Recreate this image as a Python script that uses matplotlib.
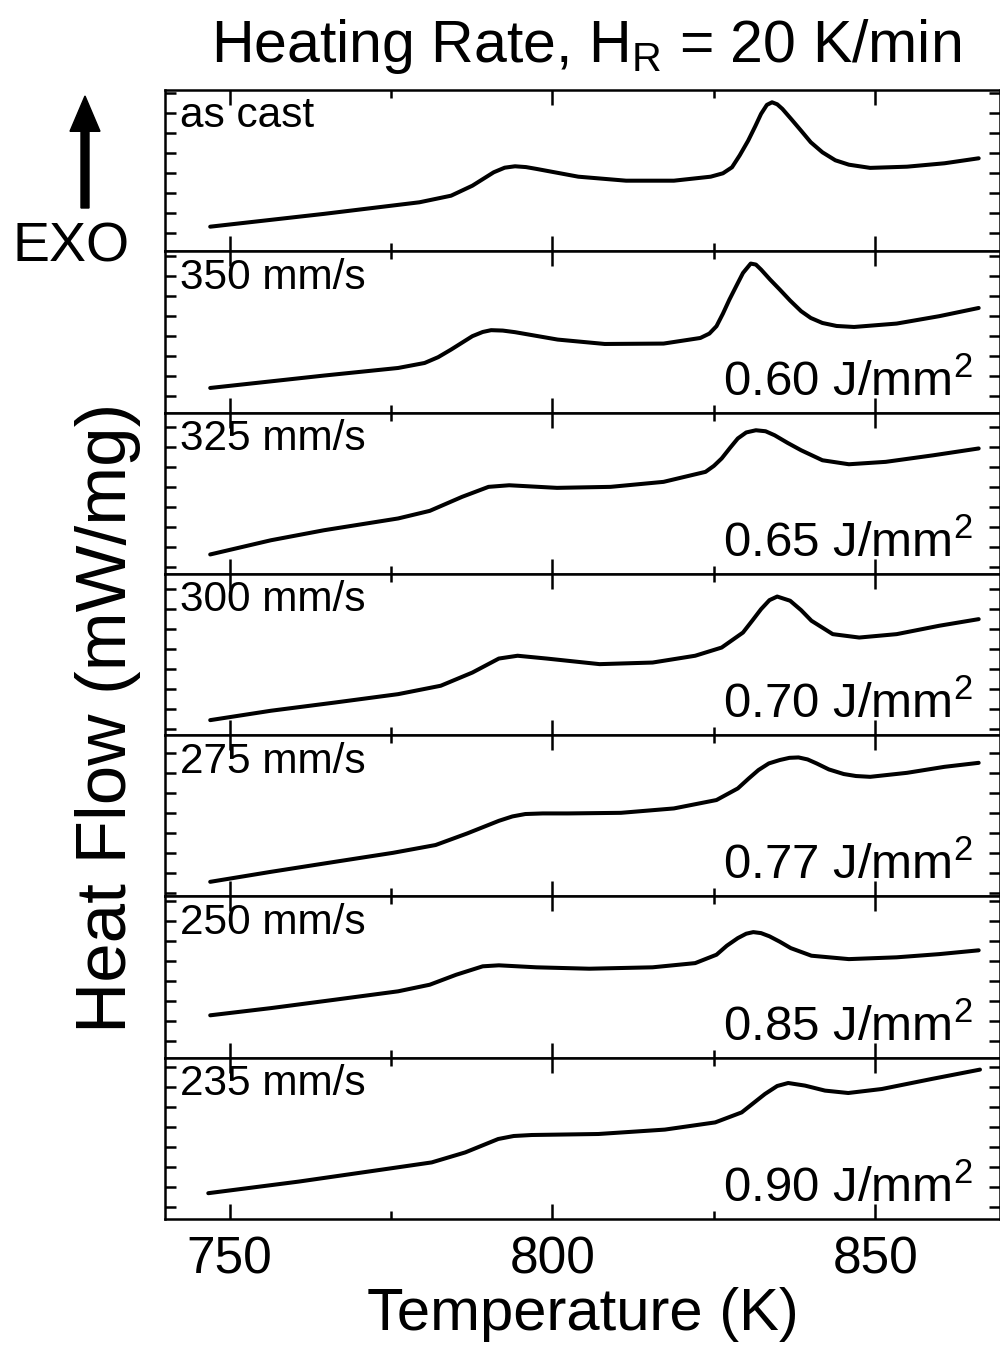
import matplotlib
matplotlib.use("Agg")
import matplotlib.pyplot as plt
from matplotlib.patches import FancyArrow
from matplotlib.ticker import MultipleLocator

plt.rcParams['font.family'] = ['Liberation Sans', 'DejaVu Sans']
plt.rcParams['mathtext.fontset'] = 'custom'
plt.rcParams['mathtext.rm'] = 'Liberation Sans'

# DSC traces, heat flow in arbitrary offset units (one unit = one y tick)
speeds = ["as cast", "350 mm/s", "325 mm/s", "300 mm/s", "275 mm/s", "250 mm/s", "235 mm/s"]
energies = [None, "0.60", "0.65", "0.70", "0.77", "0.85", "0.90"]

t_ascast = [747.0, 764.6, 779.4, 784.3, 787.6, 790.9, 792.6, 794.2, 795.9, 797.5, 804.0, 811.4,
            818.8, 824.5, 826.4, 827.8, 829.0, 830.3, 831.4, 832.3, 833.2, 834.0, 834.8, 835.6,
            837.0, 838.5, 840.0, 841.8, 843.8, 845.9, 849.2, 854.9, 860.7, 866.0]
hf_ascast = [0.33, 0.97, 1.55, 1.88, 2.38, 3.05, 3.28, 3.35, 3.31, 3.22, 2.83, 2.63,
             2.63, 2.83, 3.00, 3.30, 3.90, 4.63, 5.35, 5.97, 6.42, 6.55, 6.45, 6.22,
             5.70, 5.13, 4.55, 4.05, 3.65, 3.43, 3.27, 3.33, 3.50, 3.75]

t_350 = [747.0, 764.6, 776.1, 780.2, 782.3, 784.3, 787.6, 789.2, 790.5, 792.3, 794.2, 800.8,
         808.1, 817.2, 822.9, 824.3, 825.4, 826.4, 827.4, 828.5, 829.5, 830.7, 831.5, 832.3,
         833.7, 835.2, 836.8, 838.5, 840.0, 841.8, 844.0, 846.7, 853.3, 859.9, 866.0]
hf_350 = [0.38, 1.00, 1.38, 1.63, 1.92, 2.30, 2.97, 3.18, 3.27, 3.25, 3.17, 2.80,
          2.58, 2.60, 2.88, 3.10, 3.47, 4.10, 4.80, 5.50, 6.13, 6.60, 6.55, 6.30,
          5.80, 5.30, 4.75, 4.22, 3.88, 3.63, 3.48, 3.43, 3.60, 3.97, 4.38]

t_325 = [747.0, 756.4, 764.6, 776.1, 781.0, 786.0, 790.1, 793.3, 800.7, 809.0, 817.2, 823.7,
         825.0, 826.2, 827.5, 828.7, 830.0, 831.5, 833.0, 834.4, 836.4, 838.5, 841.8, 845.9,
         851.6, 859.0, 866.0]
hf_325 = [0.62, 1.33, 1.83, 2.42, 2.80, 3.50, 4.00, 4.08, 3.95, 4.00, 4.25, 4.75,
          5.05, 5.42, 5.95, 6.42, 6.72, 6.83, 6.78, 6.58, 6.20, 5.83, 5.33, 5.13,
          5.25, 5.58, 5.92]

t_300 = [747.0, 756.4, 766.3, 776.1, 782.7, 787.6, 791.7, 794.6, 799.1, 807.3, 815.5, 822.1,
         826.2, 829.5, 831.0, 832.3, 833.6, 834.8, 836.8, 838.5, 840.1, 843.4, 847.5, 853.3,
         859.9, 866.0]
hf_300 = [0.45, 0.92, 1.33, 1.75, 2.17, 2.83, 3.53, 3.67, 3.53, 3.25, 3.33, 3.67,
          4.08, 4.83, 5.45, 6.00, 6.45, 6.63, 6.42, 5.95, 5.42, 4.75, 4.58, 4.75,
          5.17, 5.50]

t_275 = [747.0, 756.4, 766.3, 775.3, 781.9, 786.8, 791.7, 793.8, 795.8, 798.5, 802.4, 810.6,
         818.8, 825.4, 828.7, 830.4, 831.9, 833.5, 835.2, 836.7, 838.1, 839.5, 840.9, 842.8,
         845.1, 847.0, 849.2, 854.9, 860.7, 866.0]
hf_275 = [-0.42, 0.08, 0.58, 1.03, 1.42, 2.00, 2.63, 2.85, 2.97, 3.00, 3.00, 3.03,
          3.25, 3.67, 4.25, 4.75, 5.17, 5.50, 5.67, 5.78, 5.80, 5.70, 5.50, 5.20,
          4.97, 4.87, 4.83, 5.03, 5.33, 5.53]

t_250 = [747.0, 756.4, 766.3, 776.1, 781.0, 785.1, 789.2, 791.7, 797.5, 805.7, 815.5, 822.1,
         825.4, 827.0, 828.7, 830.0, 831.1, 832.3, 833.6, 835.2, 836.9, 840.1, 845.9, 853.3,
         859.9, 866.0]
hf_250 = [1.27, 1.63, 2.05, 2.47, 2.80, 3.30, 3.72, 3.77, 3.67, 3.60, 3.67, 3.88,
          4.30, 4.75, 5.13, 5.35, 5.43, 5.38, 5.22, 4.95, 4.63, 4.25, 4.08, 4.17,
          4.33, 4.52]

t_235 = [746.7, 760.7, 774.9, 781.3, 786.5, 791.6, 794.0, 796.8, 807.1, 817.4, 825.2, 829.3,
         832.9, 834.8, 836.5, 839.1, 842.2, 845.8, 851.0, 858.7, 866.2]
hf_235 = [0.69, 1.27, 1.93, 2.23, 2.73, 3.40, 3.55, 3.60, 3.65, 3.87, 4.23, 4.73,
          5.65, 6.05, 6.20, 6.07, 5.82, 5.70, 5.90, 6.40, 6.87]

temps = [t_ascast, t_350, t_325, t_300, t_275, t_250, t_235]
flows = [hf_ascast, hf_350, hf_325, hf_300, hf_275, hf_250, hf_235]
# lower y limit of each panel (heat flow units)
ylow = [-0.9, -0.85, -0.35, -0.3, -1.15, -0.85, -0.6]

W, H = 1000, 1358
fig = plt.figure(figsize=(W / 100, H / 100), dpi=100)

left, right = 165 / W, 1.0
top_px, bot_px = 90, 1219
ph = (bot_px - top_px) / 7

for i in range(7):
    y0 = 1 - (top_px + (i + 1) * ph) / H
    ax = fig.add_axes([left, y0, right - left, ph / H])
    ax.plot(temps[i], flows[i], color='black', lw=2.9,
            solid_joinstyle='round', solid_capstyle='round')
    ax.set_xlim(740, 869.3)
    ax.set_ylim(ylow[i], ylow[i] + ph / 20)
    ax.xaxis.set_major_locator(MultipleLocator(50))
    ax.xaxis.set_minor_locator(MultipleLocator(25))
    ax.yaxis.set_major_locator(MultipleLocator(1))
    ax.tick_params(axis='x', which='major', direction='in', top=True, bottom=True,
                   length=11, width=1.8, labelsize=37, pad=12)
    ax.tick_params(axis='x', which='minor', direction='in', top=True, bottom=True,
                   length=6, width=1.8)
    ax.tick_params(axis='y', which='major', direction='in', left=True, right=True,
                   length=8, width=1.8, labelleft=False)
    for s in ax.spines.values():
        s.set_linewidth(1.8)
    if i < 6:
        ax.tick_params(axis='x', labelbottom=False)
    ax.text(0.018, 0.96, speeds[i], transform=ax.transAxes, fontsize=30.5,
            ha='left', va='top')
    if energies[i] is not None:
        ax.text(0.968, 0.10, energies[i] + r" J/mm$^2$", transform=ax.transAxes,
                fontsize=35.5, ha='right', va='baseline')
    if i == 6:
        ax.set_xlabel("Temperature (K)", fontsize=43, labelpad=2)

fig.text(0.586, 1 - 62 / H, r"Heating Rate, H$_\mathregular{R}$ = 20 K/min",
         fontsize=42.5, ha='center', va='baseline')
fig.text(0.108, 1 - 718 / H, "Heat Flow (mW/mg)", fontsize=51, rotation=90,
         ha='center', va='center')
fig.text(0.071, 1 - 262 / H, "EXO", fontsize=40, ha='center', va='baseline')
fig.patches.append(FancyArrow(
    0.085, 1 - 208 / H, 0, (208 - 96) / H, width=0.008, head_width=0.03,
    head_length=0.026, length_includes_head=True, color='black',
    transform=fig.transFigure, figure=fig))

fig.savefig("out.png", dpi=100)
